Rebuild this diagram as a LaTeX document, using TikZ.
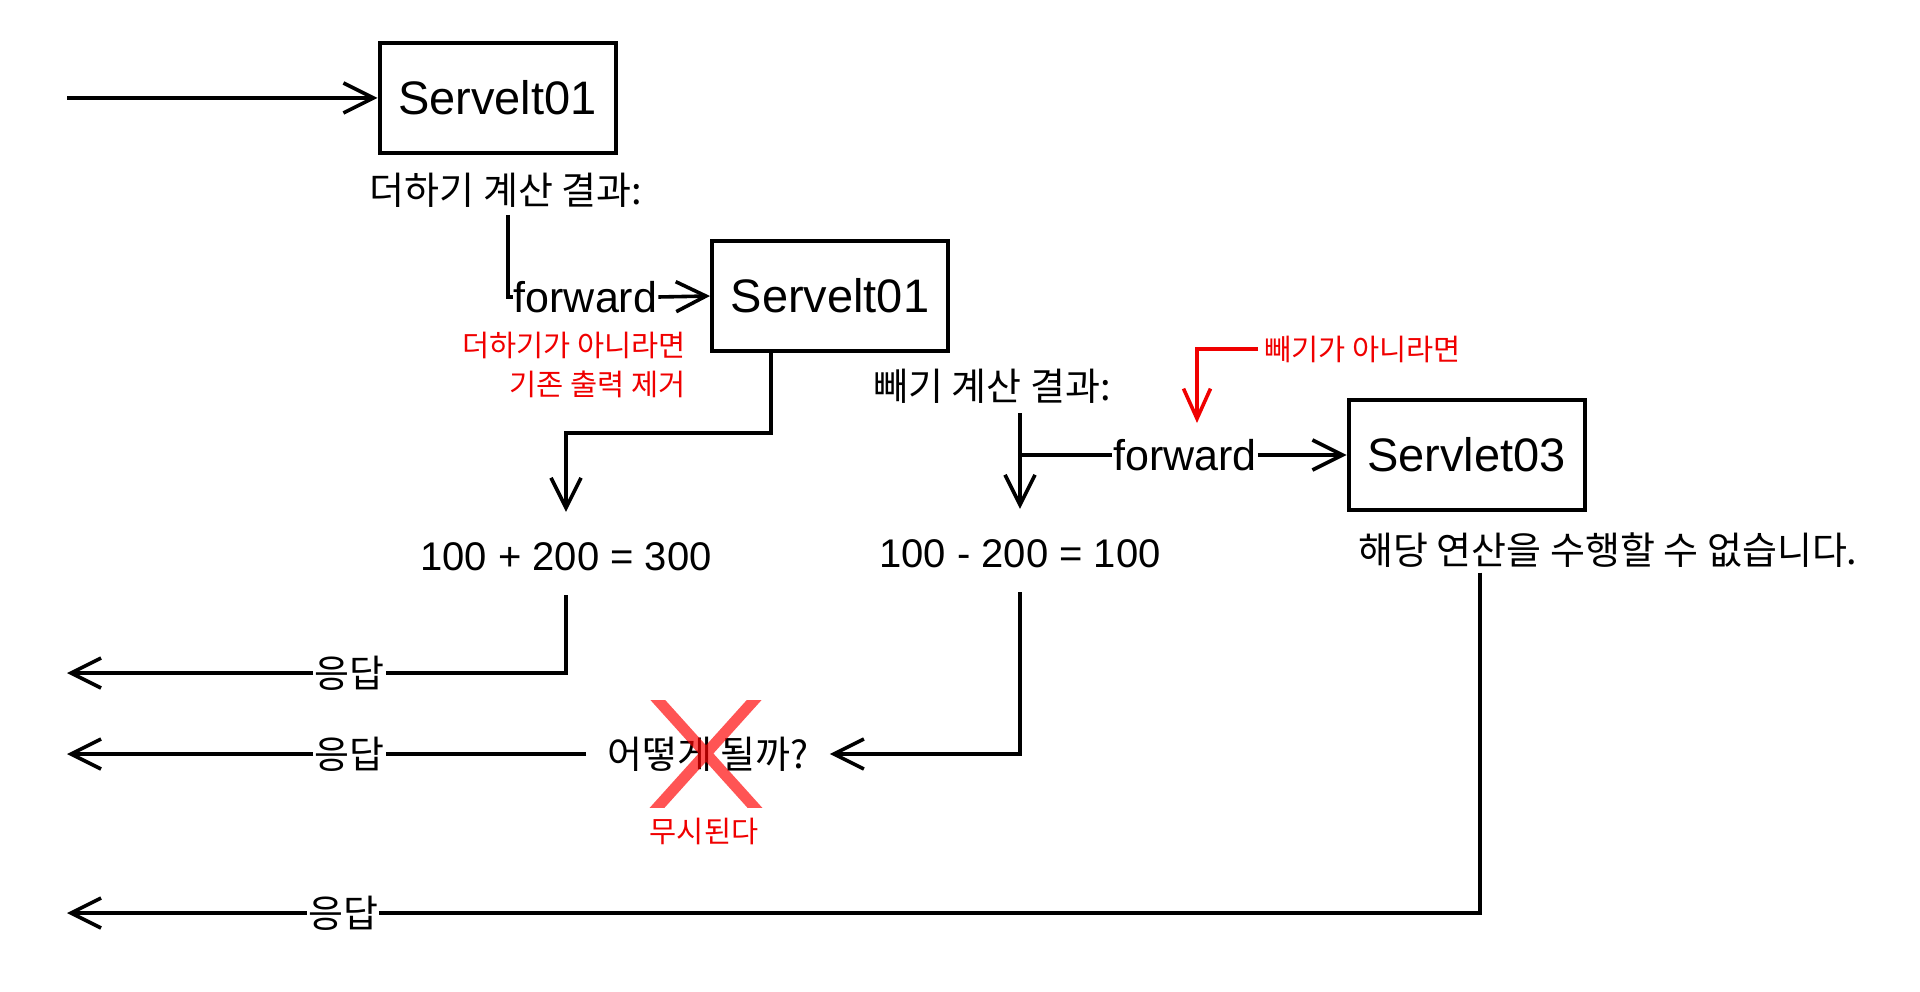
\documentclass[tikz,border=0pt]{standalone}
\usepackage{fontspec}
\setmainfont{Liberation Sans}
\newfontfamily\krfont{Noto Sans CJK KR}
\usetikzlibrary{arrows.meta}
\definecolor{redtxt}{RGB}{240,0,0}
\begin{document}
\begin{tikzpicture}[x=1pt,y=-1pt,
  conn/.style={line width=3.6pt},
  arr/.style={conn, -{Straight Barb[length=30pt,width=30pt]}},
  box/.style={draw, line width=4pt, minimum width=236pt, minimum height=110pt, inner sep=0pt, font=\fontsize{47}{50}\selectfont},
  lat/.style={inner sep=0pt, font=\fontsize{43}{46}\selectfont},
  num/.style={inner sep=0pt, font=\fontsize{40}{44}\selectfont},
  kr/.style={inner sep=0pt, font=\krfont\fontsize{38}{40}\selectfont},
  krred/.style={inner sep=0pt, text=redtxt, font=\krfont\fontsize{29.5}{32}\selectfont},
  onl/.style={fill=white, inner sep=1pt},
]
\useasboundingbox (0,0) rectangle (1920,992);
\fill[white] (0,0) rectangle (1920,992);

% boxes
\node[box] (s1) at (497.5,98) {Servelt01};
\node[box] (s2) at (830,296) {Servelt01};
\node[box] (s3) at (1466.5,455) {Servlet03};

\coordinate (in) at (67,98);
\draw[arr] (in) -- (s1.west);

% addition branch
\node[kr] (addres) at (506,190) {더하기 계산 결과:};
\coordinate (a0) at (508,215);
\node[lat, onl] (fw1) at (585.5,297) {forward};
\draw[conn] (a0) |- (fw1.west);
\draw[arr] (fw1.east) -- (s2.west);

\node[krred, anchor=east] (n1) at (686,345) {더하기가 아니라면};
\node[krred, anchor=east] (n2) at (686,384) {기존 출력 제거};

\node[num, minimum height=90pt] (sum) at (566,557) {100 + 200 = 300};
\draw[arr] ([xshift=-59pt]s2.south) -- ++(0,80) -| (sum.north);

% subtraction branch
\node[kr] (subres) at (992,386) {빼기 계산 결과:};
\coordinate (b0) at (1020,413);
\node[num, minimum height=89pt] (sub) at (1020,553.5) {100 - 200 = 100};
\draw[arr] (b0) -- (sub.north);
\node[lat, onl] (fw2) at (1185,455) {forward};
\draw[conn] (b0 |- fw2) -- (fw2.west);
\draw[arr] (fw2.east) -- (s3.west);

\node[krred, anchor=west] (n3) at (1264,349) {빼기가 아니라면};
\coordinate (rt) at (1197,423);
\draw[conn, redtxt, -{Straight Barb[length=30pt,width=27pt]}] ([xshift=-6pt]n3.west) -| (rt);

\node[kr] (err) at (1608,550) {해당 연산을 수행할 수 없습니다.};

% responses
\node[kr, onl] (r1) at (349.5,673) {응답};
\coordinate (o1) at (67,673);
\draw[conn] ([yshift=7pt]sum.south) |- (r1.east);
\draw[arr] (r1.west) -- (o1);

\node[kr, inner xsep=21pt] (q) at (708,754) {어떻게 될까?};
\draw[arr] ([yshift=6pt]sub.south) |- (q.east);
\node[kr, onl] (r2) at (349.5,754) {응답};
\coordinate (o2) at (67,754);
\draw[conn] (q.west) -- (r2.east);
\draw[arr] (r2.west) -- (o2);

\begin{scope}
\clip (640,700) rectangle (775,807);
\draw[line width=11pt, red, draw opacity=0.67]
  (647,688) -- (765,819)
  (765,688) -- (647,819);
\end{scope}
\node[krred] (ign) at (704,831) {무시된다};

\node[kr, onl] (r3) at (343,913) {응답};
\coordinate (o3) at (67,913);
\draw[conn] ([xshift=-128pt,yshift=-5pt]err.south) |- (r3.east);
\draw[arr] (r3.west) -- (o3);
\end{tikzpicture}
\end{document}
